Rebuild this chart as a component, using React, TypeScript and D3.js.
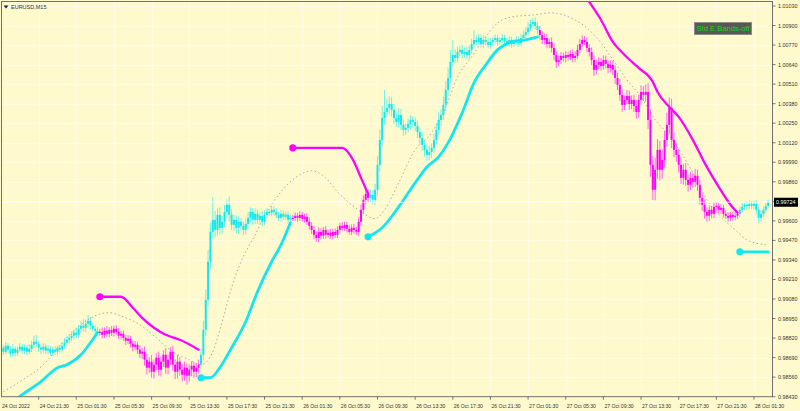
import React from "react";
import * as d3 from "d3";

// ---- DATA (prices in points, 1 point = 0.00001) ----
const symbolTitle = "EURUSD,M15";
const buttonText = "Std E Bands-off";
const firstOpen = 98740;
const bidPrice = 99724;

const closes = [
  98756, 98729, 98769, 98743, 98716, 98749, 98722, 98743, 98762, 98736,
  98756, 98729, 98749, 98776, 98796, 98782, 98756, 98743, 98762, 98736,
  98749, 98722, 98743, 98729, 98756, 98743, 98769, 98789, 98809, 98822,
  98836, 98856, 98842, 98882, 98902, 98889, 98915, 98935, 98902, 98882,
  98869, 98856, 98862, 98842, 98869, 98849, 98875, 98856, 98882, 98862,
  98836, 98849, 98822, 98802, 98816, 98782, 98762, 98776, 98743, 98716,
  98729, 98676, 98623, 98663, 98596, 98643, 98689, 98610, 98663, 98709,
  98623, 98676, 98729, 98643, 98596, 98663, 98610, 98576, 98623, 98570,
  98610, 98636, 98596, 98623, 98643, 98709, 98875, 99075, 99328, 99527,
  99607, 99540, 99640, 99554, 99594, 99660, 99707, 99640, 99574, 99607,
  99554, 99594, 99567, 99540, 99580, 99620, 99660, 99607, 99647, 99607,
  99634, 99594, 99640, 99660, 99654, 99674, 99660, 99640, 99620, 99647,
  99627, 99640, 99607, 99620, 99620, 99634, 99620, 99640, 99614, 99627,
  99594, 99567, 99540, 99507, 99487, 99527, 99501, 99540, 99507, 99521,
  99501, 99527, 99507, 99540, 99567, 99554, 99574, 99547, 99527, 99554,
  99540, 99527, 99594, 99674, 99740, 99780, 99753, 99773, 99740, 99807,
  99973, 100139, 100285, 100325, 100352, 100378, 100339, 100285, 100259, 100305,
  100239, 100206, 100219, 100245, 100272, 100259, 100232, 100192, 100152, 100106,
  100073, 100039, 100059, 100086, 100139, 100206, 100272, 100305, 100372, 100472,
  100551, 100658, 100704, 100684, 100724, 100738, 100711, 100724, 100704, 100738,
  100777, 100804, 100791, 100817, 100777, 100804, 100791, 100771, 100791, 100804,
  100817, 100791, 100804, 100817, 100797, 100784, 100804, 100777, 100791, 100804,
  100784, 100817, 100837, 100857, 100884, 100910, 100924, 100897, 100870, 100837,
  100804, 100817, 100777, 100791, 100751, 100704, 100658, 100671, 100698, 100684,
  100704, 100691, 100711, 100684, 100698, 100738, 100777, 100804, 100791, 100751,
  100724, 100671, 100605, 100638, 100658, 100631, 100671, 100644, 100618, 100638,
  100605, 100551, 100505, 100438, 100372, 100405, 100432, 100378, 100405, 100365,
  100325, 100405, 100458, 100438, 100458, 100272, 99973, 99807, 99940, 100073,
  99940, 100006, 100139, 100239, 100352, 100139, 100073, 100039, 99973, 99886,
  99940, 99873, 99840, 99886, 99860, 99900, 99840, 99753, 99707, 99660,
  99634, 99674, 99647, 99693, 99700, 99674, 99687, 99647, 99634, 99620,
  99640, 99627, 99634, 99647, 99674, 99693, 99707, 99700, 99713, 99700,
  99713, 99674, 99620, 99647, 99674, 99700, 99724,
];

const wickUp = [
  20, 15, 25, 18, 22, 30, 15, 20, 25, 18,
  22, 18, 30, 25, 40, 45, 20, 18, 25, 20,
  22, 18, 20, 25, 15, 20, 25, 30, 22, 25,
  28, 20, 35, 25, 30, 45, 30, 40, 25, 20,
  22, 25, 20, 28, 22, 30, 18, 25, 20, 22,
  25, 20, 22, 18, 25, 20, 22, 25, 20, 30,
  25, 35, 40, 30, 45, 35, 30, 40, 35, 30,
  45, 35, 30, 40, 35, 45, 30, 35, 40, 30,
  35, 30, 25, 30, 35, 40, 60, 70, 80, 60,
  150, 60, 45, 50, 40, 45, 35, 55, 40, 35,
  30, 35, 25, 30, 35, 40, 30, 25, 35, 30,
  25, 30, 28, 25, 20, 25, 22, 25, 20, 25,
  22, 20, 25, 20, 18, 22, 20, 25, 20, 22,
  25, 30, 25, 28, 22, 30, 25, 20, 25, 22,
  25, 20, 22, 25, 20, 25, 22, 20, 25, 22,
  25, 22, 30, 35, 30, 40, 30, 35, 30, 40,
  60, 70, 80, 146, 60, 50, 45, 40, 35, 45,
  40, 35, 30, 35, 30, 25, 30, 35, 30, 35,
  30, 35, 40, 30, 40, 45, 50, 40, 55, 60,
  70, 80, 100, 40, 35, 30, 35, 30, 35, 30,
  35, 67, 30, 28, 25, 30, 25, 28, 25, 22,
  25, 22, 20, 25, 22, 20, 25, 22, 20, 25,
  22, 25, 30, 35, 40, 30, 25, 30, 25, 28,
  25, 30, 28, 25, 30, 28, 25, 30, 25, 22,
  25, 22, 25, 28, 30, 35, 33, 30, 25, 30,
  25, 30, 28, 35, 30, 25, 30, 28, 25, 30,
  28, 30, 35, 40, 35, 30, 40, 35, 30, 35,
  40, 35, 45, 40, 50, 60, 70, 60, 80, 70,
  60, 70, 60, 80, 70, 60, 50, 45, 40, 50,
  40, 45, 35, 40, 35, 45, 40, 35, 30, 35,
  30, 28, 25, 30, 25, 22, 25, 20, 22, 25,
  20, 22, 25, 20, 22, 25, 20, 22, 25, 20,
  22, 25, 20, 25, 22, 20, 18,
];

const wickDn = [
  18, 22, 15, 25, 20, 18, 25, 20, 15, 22,
  20, 25, 18, 22, 20, 18, 25, 30, 20, 22,
  25, 20, 22, 18, 25, 20, 18, 22, 20, 25,
  22, 25, 20, 22, 28, 25, 30, 22, 25, 20,
  25, 22, 20, 25, 22, 20, 25, 22, 25, 20,
  22, 25, 20, 28, 22, 25, 30, 25, 28, 30,
  35, 40, 45, 35, 40, 45, 35, 40, 45, 35,
  40, 45, 35, 40, 50, 45, 40, 45, 40, 60,
  40, 45, 40, 35, 40, 30, 35, 40, 45, 50,
  45, 50, 40, 45, 40, 35, 40, 45, 35, 40,
  35, 40, 30, 35, 30, 35, 30, 35, 30, 28,
  25, 30, 22, 25, 20, 22, 25, 20, 22, 25,
  20, 22, 25, 20, 22, 20, 25, 22, 20, 25,
  22, 25, 28, 30, 25, 28, 25, 22, 25, 20,
  22, 25, 20, 22, 25, 20, 22, 25, 20, 22,
  25, 22, 25, 30, 25, 30, 28, 25, 30, 35,
  40, 45, 40, 45, 35, 40, 45, 40, 35, 40,
  35, 40, 35, 30, 35, 40, 35, 40, 45, 40,
  45, 40, 35, 40, 35, 30, 35, 40, 35, 40,
  40, 35, 30, 35, 30, 28, 30, 25, 30, 28,
  25, 28, 25, 22, 25, 28, 25, 22, 25, 28,
  22, 25, 20, 22, 25, 20, 22, 25, 20, 22,
  25, 22, 20, 22, 25, 20, 25, 22, 25, 30,
  28, 30, 25, 28, 30, 35, 40, 30, 28, 25,
  28, 25, 22, 28, 25, 22, 25, 20, 22, 28,
  30, 35, 40, 30, 28, 30, 25, 30, 35, 30,
  35, 40, 35, 40, 45, 35, 30, 40, 35, 40,
  45, 40, 35, 40, 45, 60, 80, 67, 70, 60,
  70, 60, 50, 45, 60, 55, 50, 45, 50, 40,
  45, 40, 45, 35, 40, 35, 40, 45, 40, 45,
  40, 35, 30, 28, 25, 30, 28, 25, 22, 25,
  22, 25, 20, 22, 25, 20, 22, 25, 20, 22,
  25, 30, 35, 25, 22, 20, 18,
];

// trend segments: [firstBar, lastBar, direction]
const trendStarts = [0, 42, 85, 124, 157, 229, 314];
const trendEnds = [41, 84, 123, 156, 228, 313, 326];
const trendDirs = ["up", "down", "up", "down", "up", "down", "up"];

// band keypoints [bar, price points]
const upBand1 = [[0, 98330], [9, 98443], [17, 98530], [24, 98623], [28, 98643], [34, 98709], [38, 98789], [41, 98856]];
const downBand1 = [[42, 99095], [51, 99095], [56, 99022], [60, 98955], [65, 98889], [70, 98842], [76, 98809], [84, 98743]];
const upBand2 = [[85, 98556], [89, 98556], [93, 98623], [98, 98756], [104, 98929], [109, 99128], [115, 99328], [119, 99441], [123, 99587]];
const downBand2 = [[124, 100086], [145, 100086], [148, 100046], [150, 99993], [153, 99886], [156, 99780]];
const upBand3 = [[156, 99494], [162, 99554], [169, 99693], [176, 99853], [181, 99959], [186, 100026], [190, 100119], [196, 100319], [201, 100518], [206, 100638], [211, 100738], [217, 100791], [223, 100804], [228, 100824]];
const downBand3 = [[240, 101296], [250, 101057], [255, 100937], [260, 100791], [265, 100704], [271, 100618], [277, 100525], [279, 100458], [284, 100358], [288, 100292], [294, 100139], [299, 99986], [305, 99826], [310, 99707], [313, 99654]];
const upBand4 = [[314, 99394], [326, 99394]];

const bands = [upBand1, downBand1, upBand2, downBand2, upBand3, downBand3, upBand4];
const bandDirs = ["up", "down", "up", "down", "up", "down", "up"];
const bandHasDot = [false, true, true, true, true, false, true];

const maLine = [
  [1, 98463], [8, 98530], [18, 98643], [26, 98789], [34, 98909], [41, 98975], [46, 98989], [52, 98962],
  [59, 98909], [66, 98822], [73, 98729], [80, 98676], [85, 98643], [90, 98729], [94, 98929], [98, 99155],
  [102, 99328], [108, 99507], [113, 99660], [119, 99793], [125, 99886], [132, 99933], [138, 99886],
  [143, 99793], [149, 99707], [155, 99640], [159, 99614], [163, 99674], [169, 99853], [176, 100073],
  [183, 100186], [189, 100358], [194, 100558], [200, 100691], [206, 100824], [211, 100917], [217, 100957],
  [226, 100970], [234, 100984], [244, 100937], [249, 100884], [255, 100784], [261, 100651], [266, 100538],
  [272, 100425], [278, 100272], [283, 100186], [289, 100053], [295, 99893], [300, 99740], [306, 99627],
  [312, 99540], [317, 99474], [325, 99441],
];

const priceTicks = [
  101030, 100900, 100770, 100640, 100510, 100380, 100250, 100120, 99990, 99860,
  99730, 99600, 99470, 99340, 99210, 99080, 98950, 98820, 98690, 98560, 98430,
];

const timeLabels = [
  "24 Oct 2022", "24 Oct 21:30", "25 Oct 01:30", "25 Oct 05:30", "25 Oct 09:30", "25 Oct 13:30",
  "25 Oct 17:30", "25 Oct 21:30", "26 Oct 01:30", "26 Oct 05:30", "26 Oct 09:30", "26 Oct 13:30",
  "26 Oct 17:30", "26 Oct 21:30", "27 Oct 01:30", "27 Oct 05:30", "27 Oct 09:30", "27 Oct 13:30",
  "27 Oct 17:30", "27 Oct 21:30", "28 Oct 01:30",
];
const barsPerLabel = 16;

// ---- STYLE ----
const W = 800;
const H = 411;
const BG = "#FFFACD";
const CYAN = "#12E6F0";
const MAGENTA = "#FF00FF";
const FONT = "'Liberation Sans', Arial, sans-serif";
const PLOT = { left: 1.5, right: 772.5, top: 1, bottom: 396.7 };

export default function App() {
  const x = d3.scaleLinear().domain([0, closes.length - 1]).range([1, 768.1]);
  const y = d3.scaleLinear().domain([0.9843, 1.0103]).range([396.7, 6]);
  const py = (p: number) => y(p / 1e5);

  const dirOf = (i: number) => {
    for (let s = 0; s < trendStarts.length; s++) {
      if (i >= trendStarts[s] && i <= trendEnds[s]) return trendDirs[s];
    }
    return "up";
  };

  const candles = closes.map((c, i) => {
    const o = i === 0 ? firstOpen : closes[i - 1];
    const hi = Math.max(o, c) + wickUp[i];
    const lo = Math.min(o, c) - wickDn[i];
    return { i, o, c, hi, lo, dir: dirOf(i) };
  });

  const line = d3
    .line<number[]>()
    .x((d) => x(d[0]))
    .y((d) => py(d[1]))
    .curve(d3.curveMonotoneX);

  return (
    <svg
      width={W}
      height={H}
      style={{ position: "fixed", left: 0, top: 0, display: "block" }}
      fontFamily={FONT}
    >
      <defs>
        <clipPath id="plotClip">
          <rect x={PLOT.left} y={PLOT.top} width={PLOT.right - PLOT.left} height={PLOT.bottom - PLOT.top} />
        </clipPath>
      </defs>
      <rect x={0} y={0} width={W} height={H} fill={BG} />

      {/* grid */}
      <g stroke="#ffffff" strokeOpacity={0.45} strokeWidth={1}>
        {priceTicks.map((p) => (
          <line key={"h" + p} x1={PLOT.left} x2={PLOT.right} y1={Math.round(py(p)) + 0.5} y2={Math.round(py(p)) + 0.5} />
        ))}
        {timeLabels.map((t, k) =>
          k === 0 ? null : (
            <line
              key={"v" + k}
              x1={Math.round(x(k * barsPerLabel)) + 0.5}
              x2={Math.round(x(k * barsPerLabel)) + 0.5}
              y1={PLOT.top}
              y2={PLOT.bottom}
            />
          )
        )}
      </g>

      <g clipPath="url(#plotClip)">
        {/* moving average, dotted */}
        <path d={line(maLine) || ""} fill="none" stroke="#a8a8a0" strokeWidth={1} strokeDasharray="1.5,2.5" />

        {/* candles */}
        {candles.map((d) => {
          const col = d.dir === "up" ? CYAN : MAGENTA;
          const cx = x(d.i);
          const yTop = py(Math.max(d.o, d.c));
          const yBot = py(Math.min(d.o, d.c));
          return (
            <g key={d.i}>
              <line x1={cx} x2={cx} y1={py(d.hi)} y2={py(d.lo)} stroke={col} strokeWidth={1} strokeOpacity={0.6} />
              <rect x={cx - 1} y={yTop} width={2} height={Math.max(1.2, yBot - yTop)} fill={col} />
            </g>
          );
        })}

        {/* bands */}
        {bands.map((b, k) => (
          <path
            key={"b" + k}
            d={line(b) || ""}
            fill="none"
            stroke={bandDirs[k] === "up" ? CYAN : MAGENTA}
            strokeWidth={bandDirs[k] === "up" ? 2.8 : 2.3}
            strokeLinecap="round"
          />
        ))}
        {bands.map((b, k) =>
          bandHasDot[k] ? (
            <circle
              key={"d" + k}
              cx={x(b[0][0])}
              cy={py(b[0][1])}
              r={3.6}
              fill={bandDirs[k] === "up" ? CYAN : MAGENTA}
            />
          ) : null
        )}
      </g>

      {/* bid line */}
      <line x1={PLOT.left} x2={PLOT.right} y1={py(bidPrice)} y2={py(bidPrice)} stroke="#ffffff" strokeOpacity={0.7} strokeWidth={1} />

      {/* frame */}
      <rect
        x={PLOT.left}
        y={PLOT.top + 0.5}
        width={PLOT.right - PLOT.left}
        height={PLOT.bottom - PLOT.top - 0.5}
        fill="none"
        stroke="#707070"
        strokeWidth={1}
      />

      {/* right axis */}
      <g fontSize={5.4} fill="#333">
        {priceTicks.map((p) => {
          const yy = py(p);
          const hidden = Math.abs(p - bidPrice) < 40;
          return (
            <g key={"pt" + p}>
              <line x1={PLOT.right} x2={PLOT.right + 3} y1={yy} y2={yy} stroke="#555" strokeWidth={0.8} />
              {hidden ? null : (
                <text x={778} y={yy} dominantBaseline="central">
                  {(p / 1e5).toFixed(5)}
                </text>
              )}
            </g>
          );
        })}
        <rect x={774} y={py(bidPrice) - 4.5} width={24} height={9} fill="#000" />
        <text x={776} y={py(bidPrice)} dominantBaseline="central" fill="#fff">
          {(bidPrice / 1e5).toFixed(5)}
        </text>
      </g>

      {/* bottom axis */}
      <g fontSize={5.1} fill="#333">
        {timeLabels.map((t, k) => {
          const xx = x(k * barsPerLabel);
          return (
            <g key={"tl" + k}>
              {k > 0 ? <line x1={xx} x2={xx} y1={PLOT.bottom} y2={PLOT.bottom + 3} stroke="#555" strokeWidth={0.8} /> : null}
              <text x={k === 0 ? 2 : xx + 1} y={405.5} dominantBaseline="central">
                {t}
              </text>
            </g>
          );
        })}
      </g>

      {/* title */}
      <path d="M3.5,5.5 L8.5,5.5 L6,8.5 Z" fill="#222" />
      <text x={11} y={7.2} fontSize={5.5} fill="#333" dominantBaseline="central">
        {symbolTitle}
      </text>

      {/* button */}
      <rect x={694.5} y={22.5} width={57} height={12} fill="#585858" stroke="#8c8c8c" strokeWidth={1} />
      <text x={723} y={28.8} fontSize={7.6} fill="#22d022" textAnchor="middle" dominantBaseline="central">
        {buttonText}
      </text>
    </svg>
  );
}
